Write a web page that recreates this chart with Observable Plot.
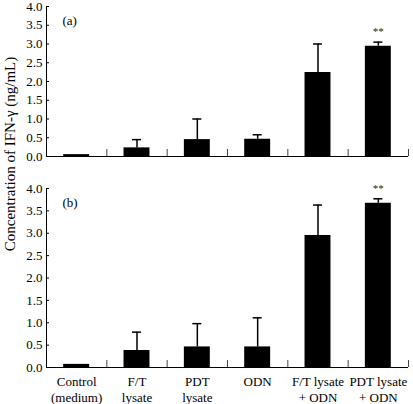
<!DOCTYPE html>
<html>
<head>
<meta charset="utf-8">
<script src="https://cdn.jsdelivr.net/npm/d3@7"></script>
<script src="https://cdn.jsdelivr.net/npm/@observablehq/plot@0.6"></script>
<style>
  body { margin: 0; background: #fff; }
  #chart { position: relative; width: 413px; height: 404px; font-family: "Liberation Serif", "Times New Roman", serif; }
  #chart svg.plot { display: block; }
  #ylab { position: absolute; left: 0; top: 0; pointer-events: none; }
</style>
</head>
<body>
<div id="chart"></div>
<script>
// Data
const categories = ["Control\n(medium)", "F/T\nlysate", "PDT\nlysate", "ODN", "F/T lysate\n+ ODN", "PDT lysate\n+ ODN"];
const valuesA = [0.05, 0.23, 0.45, 0.46, 2.24, 2.94];
const errTopA = [0.05, 0.45, 1.00, 0.58, 3.00, 3.05];
const valuesB = [0.07, 0.38, 0.46, 0.46, 2.95, 3.67];
const errTopB = [0.07, 0.79, 0.98, 1.11, 3.63, 3.77];
const starsA = ["", "", "", "", "", "**"];
const starsB = ["", "", "", "", "", "**"];
const yTicks = [0, 0.5, 1.0, 1.5, 2.0, 2.5, 3.0, 3.5, 4.0];
const separators = [1, 2, 3, 4, 5, 6];
const panelA = "(a)";
const panelB = "(b)";
const yLabel = "Concentration of IFN-\u03b3 (ng/mL)";

const font = "'Liberation Serif', 'Times New Roman', serif";
const barHalf = 0.215;
const capHalf = 0.075;

function makeRows(values, errTop, stars) {
  return categories.map((c, i) => ({i, c, v: values[i], e: errTop[i], s: stars[i]}));
}

function panel(values, errTop, stars, label, opts) {
  const rows = makeRows(values, errTop, stars);
  const marks = [
    Plot.rectY(rows, {x1: d => d.i + 0.5 - barHalf, x2: d => d.i + 0.5 + barHalf, y1: 0, y2: "v", fill: "#000"}),
    Plot.ruleX(rows.filter(d => d.e > d.v), {x: d => d.i + 0.5, y1: "v", y2: "e", stroke: "#000", strokeWidth: 1.5}),
    Plot.ruleY(rows.filter(d => d.e > d.v), {x1: d => d.i + 0.5 - capHalf, x2: d => d.i + 0.5 + capHalf, y: "e", stroke: "#000", strokeWidth: 1.5}),
    Plot.text(rows.filter(d => d.s), {x: d => d.i + 0.5, y: "e", text: "s", dy: opts.starDy, fontSize: 11, fill: "#222"}),
    Plot.ruleY([0], {stroke: "#000", strokeWidth: 1}),
    Plot.ruleX([0], {stroke: "#000", strokeWidth: 1}),
    Plot.ruleX(separators, {x: d => d, y1: 0, y2: 0, insetTop: -7, stroke: "#444", strokeWidth: 1}),
    Plot.ruleY(yTicks, {x1: 0, x2: 0, y: d => d, insetRight: -3, stroke: "#000", strokeWidth: 1}),
    Plot.axisY({ticks: yTicks, tickFormat: d3.format(".1f"), tickSize: 0, tickPadding: 4, fontSize: 13}),
    Plot.text([label], {frameAnchor: "top-left", dx: 16, dy: opts.labelDy, textAnchor: "start", fontSize: 13})
  ];
  if (opts.xLabels) {
    marks.push(Plot.text(rows, {x: d => d.i + 0.5, y: 0, text: "c", lineAnchor: "top", dy: 8, lineHeight: 1.18, fontSize: 13, fill: "#000"}));
  }
  return Plot.plot({
    width: 413,
    height: opts.height,
    marginLeft: 46,
    marginRight: 5,
    marginTop: opts.marginTop,
    marginBottom: opts.marginBottom,
    x: {type: "linear", domain: [0, 6], axis: null},
    y: {domain: [0, 4]},
    style: {fontFamily: font, fontSize: "13px", color: "#000", background: "#fff", overflow: "visible"},
    marks
  });
}

const chart = document.getElementById("chart");
chart.appendChild(panel(valuesA, errTopA, starsA, panelA, {height: 170, marginTop: 6, marginBottom: 14, starDy: -11, labelDy: 9}));
chart.appendChild(panel(valuesB, errTopB, starsB, panelB, {height: 234, marginTop: 18, marginBottom: 37, starDy: -10, labelDy: 9, xLabels: true}));

const ysvg = d3.select(chart).append("svg").attr("id", "ylab").attr("width", 20).attr("height", 404);
ysvg.append("text")
  .attr("transform", "translate(10,154) rotate(-90)")
  .attr("text-anchor", "middle")
  .attr("dominant-baseline", "central")
  .attr("font-family", font)
  .attr("font-size", 15)
  .attr("fill", "#000")
  .text(yLabel);
</script>
</body>
</html>
